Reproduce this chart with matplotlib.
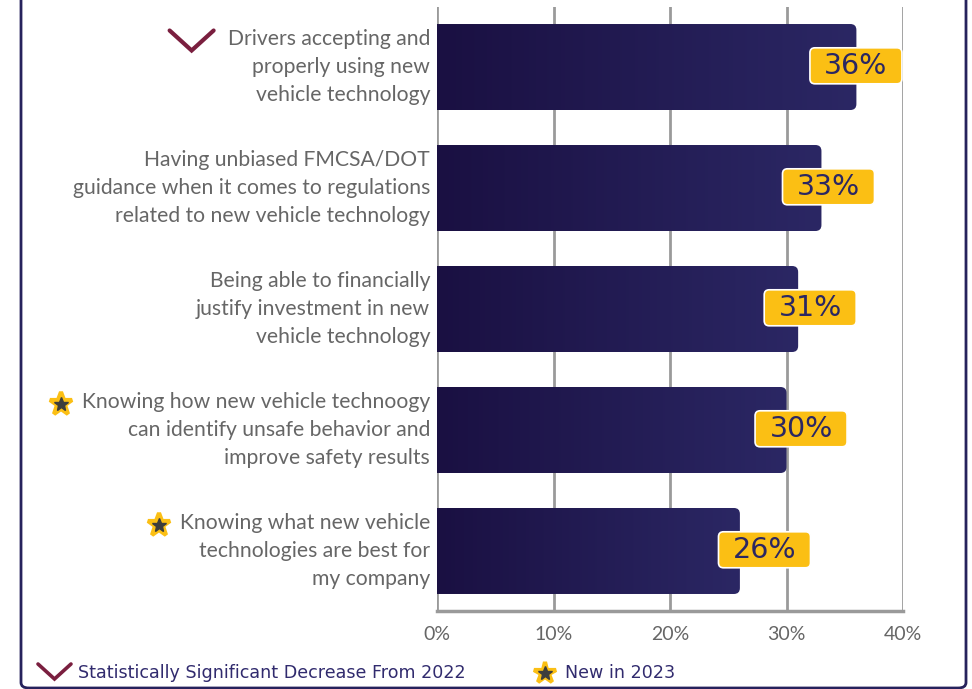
import numpy as np
import matplotlib.pyplot as plt
from matplotlib.patches import FancyBboxPatch
from matplotlib.colors import LinearSegmentedColormap
from matplotlib.lines import Line2D

categories = [
    "Drivers accepting and\nproperly using new\nvehicle technology",
    "Having unbiased FMCSA/DOT\nguidance when it comes to regulations\nrelated to new vehicle technology",
    "Being able to financially\njustify investment in new\nvehicle technology",
    "Knowing how new vehicle technoogy\ncan identify unsafe behavior and\nimprove safety results",
    "Knowing what new vehicle\ntechnologies are best for\nmy company",
]
values = [36, 33, 31, 30, 26]
flags = ["decrease", None, None, "new", "new"]
ticks = [0, 10, 20, 30, 40]
tick_labels = ["0%", "10%", "20%", "30%", "40%"]
legend_labels = ["Statistically Significant Decrease From 2022", "New in 2023"]

NAVY = "#2b2762"
MAROON = "#7a1f3f"
YELLOW = "#fbbf14"
GRAY_TXT = "#666666"
GRID = "#9a9a9a"

plt.rcParams['font.family'] = ['Lato', 'DejaVu Sans']

W, H = 972, 689
fig = plt.figure(figsize=(W / 100, H / 100), dpi=100)
ax = fig.add_axes([437 / W, 1 - 611 / H, 466 / W, 604 / H])

# pixel -> data helpers for rounding corners
px_x = 466 / 40.0
px_y = 121.0
aspect = px_x / px_y

cmap = LinearSegmentedColormap.from_list("bar", ["#1a1042", "#2b2764"])
grad = np.linspace(0, 1, 256).reshape(1, -1)
bar_h = 86 / 121

for i, v in enumerate(values):
    clip = FancyBboxPatch((-3, i - bar_h / 2), v + 3, bar_h,
                          boxstyle=f"round,pad=0,rounding_size={6 / px_x}",
                          mutation_aspect=aspect, transform=ax.transData,
                          facecolor="none", edgecolor="none")
    ax.add_patch(clip)
    im = ax.imshow(grad, extent=[0, v, i + bar_h / 2, i - bar_h / 2],
                   cmap=cmap, aspect="auto", zorder=3, interpolation="bilinear")
    im.set_clip_path(clip)

    # value badge
    lx = 0.785 * v + 7.7
    bw, bh = 92 / px_x, 36 / px_y
    badge = FancyBboxPatch((lx - bw / 2, i - 0.01 - bh / 2), bw, bh,
                           boxstyle=f"round,pad=0,rounding_size={5 / px_x}",
                           mutation_aspect=aspect, facecolor=YELLOW,
                           edgecolor="white", linewidth=1.2, zorder=5)
    ax.add_patch(badge)
    ax.text(lx, i - 0.005, f"{v}%", ha="center", va="center", fontsize=20.5,
            color=NAVY, zorder=6, family=["DejaVu Sans"])

ax.set_xlim(0, 40)
ax.set_ylim(4 + 0.496, -0.496)

for t in ticks:
    ax.axvline(t, color=GRID, linewidth=2, zorder=1)
ax.axhline(4 + 0.496, color=GRID, linewidth=2.5, zorder=1, clip_on=False)

for s in ax.spines.values():
    s.set_visible(False)
ax.set_yticks([])
ax.set_xticks(ticks)
ax.set_xticklabels(tick_labels, fontsize=14, color=GRAY_TXT)
ax.tick_params(axis="x", length=0, pad=11)

# category labels
CAT_FS = 15.2
label_artists = []
for i, c in enumerate(categories):
    t = ax.text(-7 / 466, 1 - (i + 0.496) / 4.992, c, transform=ax.transAxes,
                ha="right", va="center", fontsize=CAT_FS, color=GRAY_TXT,
                linespacing=1.47)
    label_artists.append(t)

fig.canvas.draw()
renderer = fig.canvas.get_renderer()


def draw_check(x0, y0, w, h, lw):
    # V-shaped decrease marker, pixel coordinates from the top-left corner
    xs = [x0, x0 + w / 2, x0 + w]
    ys = [y0, y0 + h, y0]
    fig.add_artist(Line2D([x / W for x in xs], [1 - y / H for y in ys],
                          color=MAROON, linewidth=lw, solid_capstyle="round",
                          solid_joinstyle="miter"))


def draw_star(cx, cy, size):
    fig.add_artist(Line2D([cx / W], [1 - cy / H], marker="*", markersize=size,
                          markerfacecolor=YELLOW, markeredgecolor=YELLOW,
                          markeredgewidth=3, linestyle="none"))
    fig.add_artist(Line2D([cx / W], [1 - cy / H], marker="*",
                          markersize=size * 0.62, markerfacecolor="#3d3d3d",
                          markeredgecolor="#3d3d3d", linestyle="none"))


for t, flag in zip(label_artists, flags):
    if flag is None:
        continue
    first_line = t.get_text().split("\n")[0]
    probe = ax.text(0, 0, first_line, fontsize=CAT_FS, transform=None)
    fw = probe.get_window_extent(renderer).width
    probe.remove()
    bb = t.get_window_extent(renderer)
    right = bb.x1
    top_px = H - bb.y1
    line_cy = top_px + 12
    left_px = right - fw
    if flag == "decrease":
        draw_check(left_px - 58, line_cy - 11, 44, 20, 3)
    else:
        draw_star(left_px - 21, line_cy, 17)

# legend row
draw_check(38, 664, 33, 15, 2.6)
fig.text(78 / W, 1 - 673 / H, legend_labels[0], ha="left", va="center",
         fontsize=12.6, color="#312b6e", family=["DejaVu Sans"])
draw_star(545, 673, 16)
fig.text(565 / W, 1 - 673 / H, legend_labels[1], ha="left", va="center",
         fontsize=12.6, color="#312b6e", family=["DejaVu Sans"])

# outer panel frame
frame = FancyBboxPatch((21 / W, 1 - 688 / H), 945 / W, 720 / H,
                       boxstyle="round,pad=0,rounding_size=0.008",
                       transform=fig.transFigure, facecolor="none",
                       edgecolor="#26225c", linewidth=2, clip_on=False)
fig.add_artist(frame)

fig.savefig("out.png", dpi=100)
